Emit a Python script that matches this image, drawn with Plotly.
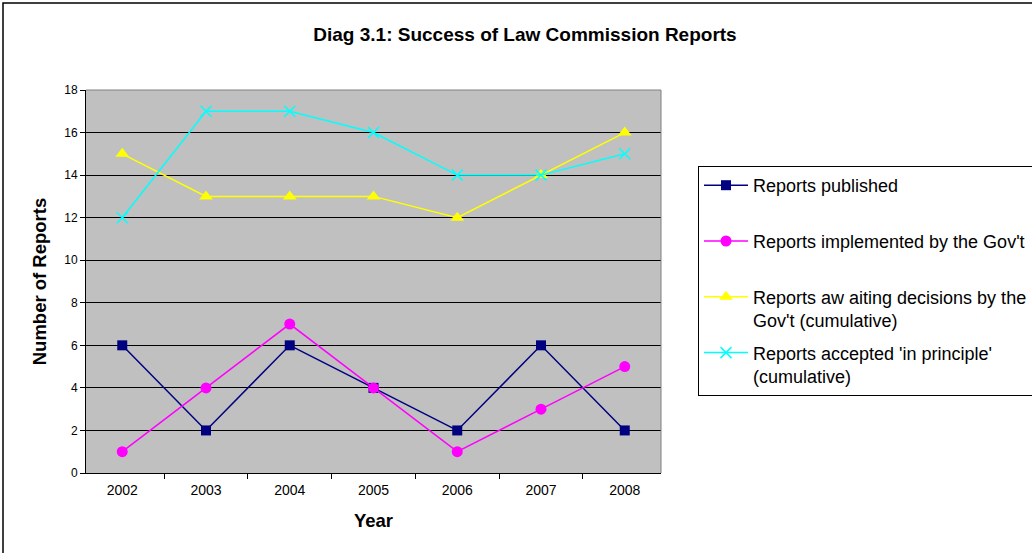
import plotly.graph_objects as go

years = ["2002", "2003", "2004", "2005", "2006", "2007", "2008"]
published = [6, 2, 6, 4, 2, 6, 2]
implemented = [1, 4, 7, 4, 1, 3, 5]
awaiting = [15, 13, 13, 13, 12, 14, 16]
accepted = [12, 17, 17, 16, 14, 14, 15]

names = [
    "Reports published<br> ",
    "Reports implemented by the Gov't<br> ",
    "Reports aw aiting decisions by the<br>Gov't (cumulative)",
    "Reports accepted 'in principle'<br>(cumulative)",
]

fig = go.Figure()
fig.add_trace(go.Scatter(x=years, y=published, name=names[0], mode="lines+markers",
                         line=dict(color="#000080", width=1.5),
                         marker=dict(symbol="square", size=10, color="#000080"),
                         legendgroup="a"))
fig.add_trace(go.Scatter(x=years, y=implemented, name=names[1], mode="lines+markers",
                         line=dict(color="#FF00FF", width=1.5),
                         marker=dict(symbol="circle", size=11, color="#FF00FF"),
                         legendgroup="b"))
fig.add_trace(go.Scatter(x=years, y=awaiting, name=names[2], mode="lines+markers",
                         line=dict(color="#FFFF00", width=1.5),
                         marker=dict(symbol="triangle-up", size=12, color="#FFFF00"),
                         legendgroup="c"))
fig.add_trace(go.Scatter(x=years, y=accepted, name=names[3], mode="lines+markers",
                         line=dict(color="#00FFFF", width=1.5),
                         marker=dict(symbol="x-thin", size=11, color="#00FFFF",
                                     line=dict(color="#00FFFF", width=1.5)),
                         legendgroup="d"))

L, R, T, B = 86, 661, 90, 473
pw, ph = R - L, B - T

def px(x):
    return (x - L) / pw

def py(y):
    return (B - y) / ph

fig.update_layout(
    width=1032, height=553,
    margin=dict(l=L, r=1032 - R, t=T, b=553 - B, pad=0),
    paper_bgcolor="white",
    plot_bgcolor="#C0C0C0",
    font=dict(family="Liberation Sans, Arial", color="black"),
    title=dict(text="<b>Diag 3.1: Success of Law Commission Reports</b>",
               x=525 / 1032, xref="container", xanchor="center",
               y=1 - 34 / 553, yref="container", yanchor="middle",
               font=dict(size=19)),
    showlegend=True,
    legend=dict(x=698 / 1032, y=1 - 166 / 553, xref="container", yref="container",
                xanchor="left", yanchor="top",
                bordercolor="black", borderwidth=1, bgcolor="white",
                font=dict(size=18), tracegroupgap=6, itemwidth=44,
                traceorder="grouped", valign="top"),
    xaxis=dict(type="category", tickson="boundaries", ticks="outside", ticklen=5,
               tickcolor="black", showline=True, linecolor="black", linewidth=1,
               mirror=False, showgrid=False, tickfont=dict(size=14),
               ticklabelstandoff=4,
               title=dict(text="<b>Year</b>", font=dict(size=18.5), standoff=17)),
    yaxis=dict(range=[0, 18], dtick=2, ticks="outside", ticklen=5, tickcolor="black",
               showline=True, linecolor="black", linewidth=1,
               showgrid=True, gridcolor="black", gridwidth=1, zeroline=False,
               tickfont=dict(size=12),
               title=dict(text="<b>Number of Reports</b>", font=dict(size=18.5), standoff=12)),
    shapes=[
        dict(type="line", xref="paper", yref="paper", x0=0, x1=1, y0=1, y1=1,
             line=dict(color="#808080", width=1)),
        dict(type="line", xref="paper", yref="paper", x0=1, x1=1, y0=0, y1=1,
             line=dict(color="#808080", width=1)),
        dict(type="rect", xref="paper", yref="paper", x0=px(3), x1=px(1045),
             y0=py(565), y1=py(3), line=dict(color="black", width=1.5),
             fillcolor="rgba(0,0,0,0)", layer="below"),
    ],
)

fig.write_html("out.html", config={"displayModeBar": False},
               post_script="document.body.style.margin='0px';")
